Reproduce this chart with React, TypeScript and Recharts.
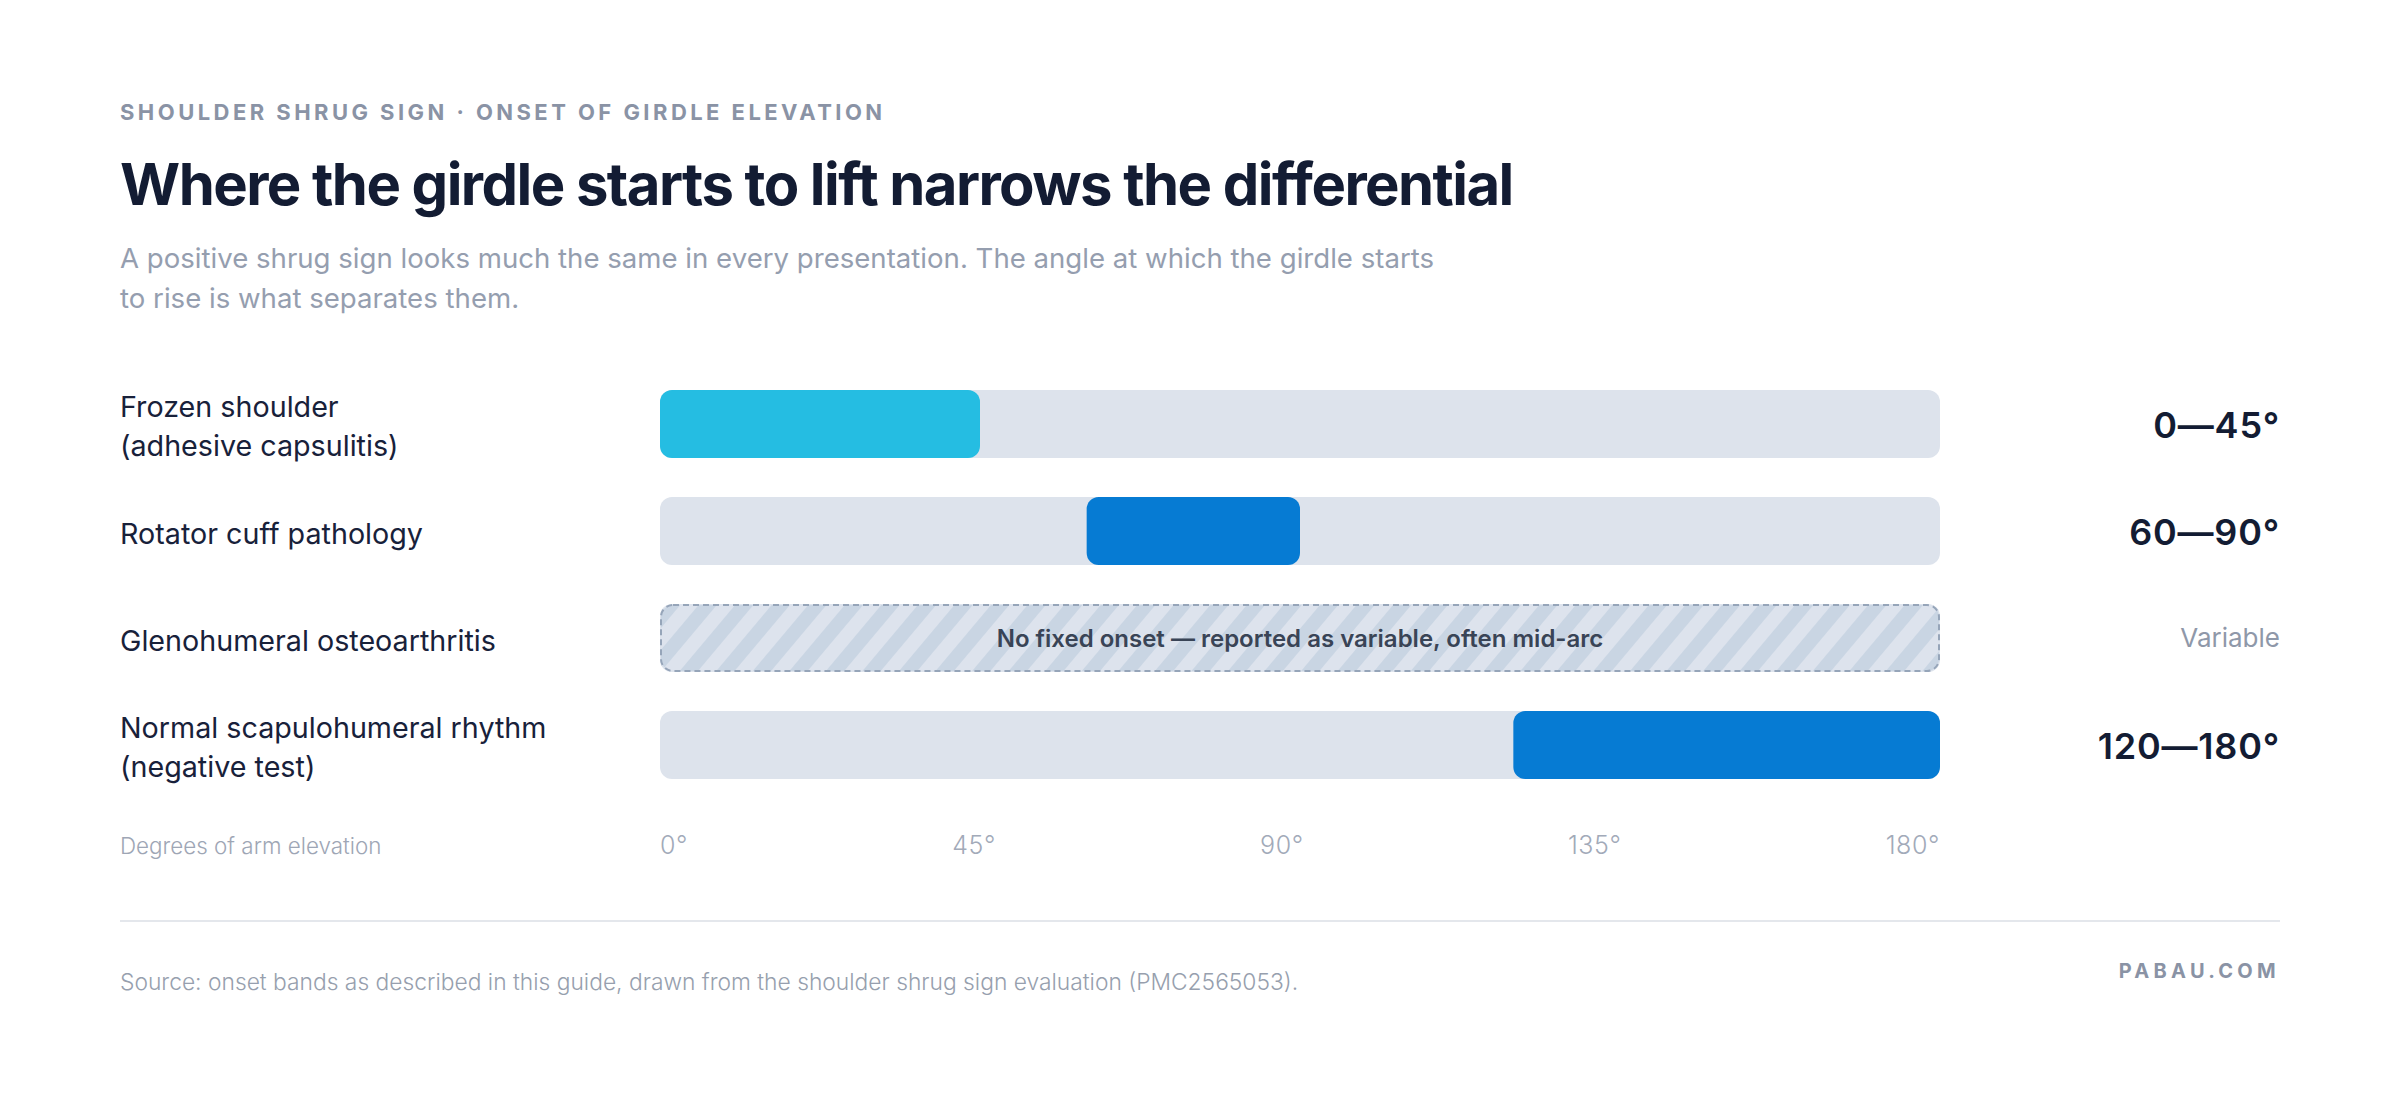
import React from 'react';
import { BarChart, Bar, XAxis, YAxis } from 'recharts';

// ---------- data ----------
const CATEGORY_IDS = ['frozen', 'cuff', 'oa', 'normal'];
const CATEGORY_LINES = [
  ['Frozen shoulder', '(adhesive capsulitis)'],
  ['Rotator cuff pathology'],
  ['Glenohumeral osteoarthritis'],
  ['Normal scapulohumeral rhythm', '(negative test)'],
];
const ONSET_START = [0, 60, null, 120];
const ONSET_END = [45, 90, null, 180];
const VALUE_LABELS = ['0—45°', '60—90°', 'Variable', '120—180°'];
const BAR_COLORS = ['#25bde2', '#067bd3', '', '#067bd3'];
const VARIABLE_NOTE = 'No fixed onset — reported as variable, often mid-arc';
const DOMAIN = [0, 180];
const TICKS = [0, 45, 90, 135, 180];
const TICK_LABELS = ['0°', '45°', '90°', '135°', '180°'];

const rows = CATEGORY_IDS.map((id, i) => {
  const variable = ONSET_START[i] === null;
  return {
    id,
    lines: CATEGORY_LINES[i],
    value: VALUE_LABELS[i],
    variable,
    color: BAR_COLORS[i],
    range: variable ? [DOMAIN[0], DOMAIN[1]] : [ONSET_START[i], ONSET_END[i]],
  };
});

// ---------- layout ----------
const W = 2400;
const H = 1108;
const PAD_X = 120;
const LEFT_AXIS_W = 540;
const RIGHT_AXIS_W = 340;
const PLOT_TOP = 370;
const BAND = 107;
const X_AXIS_H = 50;
const PLOT_LEFT = PAD_X + LEFT_AXIS_W;
const PLOT_RIGHT = W - PAD_X - RIGHT_AXIS_W;
const PLOT_BOTTOM = PLOT_TOP + BAND * rows.length;
const FONT = 'Inter, "Noto Sans", sans-serif';

const TRACK = '#dde3ec';
const NAVY = '#131c33';

let measureCtx: CanvasRenderingContext2D | null = null;
function measure(text: string, font: string, spacing: number): number {
  if (!measureCtx) {
    const c = document.createElement('canvas');
    measureCtx = c.getContext('2d');
  }
  if (!measureCtx) return text.length * 14;
  measureCtx.font = font;
  return measureCtx.measureText(text).width + spacing * text.length;
}

const TICK_FONT_SIZE = 25;
const TICK_SPACING = 0.6;
const TICK_FONT = `300 ${TICK_FONT_SIZE}px Inter`;

function tickPositions(): number[] {
  const widths = TICK_LABELS.map((t) => measure(t, TICK_FONT, TICK_SPACING));
  const total = widths.reduce((a, b) => a + b, 0);
  const gap = (PLOT_RIGHT - PLOT_LEFT - total) / (widths.length - 1);
  const pos: number[] = [];
  let acc = PLOT_LEFT;
  widths.forEach((w) => {
    pos.push(acc);
    acc += w + gap;
  });
  return pos;
}

const LeftTick = (props: any) => {
  const { y, index } = props;
  const row = rows[index];
  if (!row) return null;
  const lh = 39;
  const n = row.lines.length;
  return (
    <text x={PAD_X} y={y + 2} fontSize={28.7} fill="#18213a" fontFamily={FONT} dominantBaseline="central">
      {row.lines.map((l, i) => (
        <tspan key={i} x={PAD_X} dy={i === 0 ? -((n - 1) / 2) * lh : lh}>
          {l}
        </tspan>
      ))}
    </text>
  );
};

const RightTick = (props: any) => {
  const { y, index } = props;
  const row = rows[index];
  if (!row) return null;
  if (row.variable) {
    return (
      <text x={W - PAD_X} y={y} fontSize={26} fill="#8f98a9" fontFamily={FONT} textAnchor="end" dominantBaseline="central">
        {row.value}
      </text>
    );
  }
  return (
    <text x={W - PAD_X} y={y + 1} fontSize={36} fontWeight={600} fill={NAVY} fontFamily={FONT} textAnchor="end" dominantBaseline="central" letterSpacing={0.8}>
      {row.value}
    </text>
  );
};

const BottomTick = (props: any) => {
  const { y, index } = props;
  const pos = tickPositions();
  return (
    <text
      x={pos[index]}
      y={y + 39}
      fontSize={TICK_FONT_SIZE}
      fontWeight={300}
      letterSpacing={TICK_SPACING}
      fill="#a2aab9"
      fontFamily={FONT}
      textAnchor="start"
      dominantBaseline="central"
    >
      {TICK_LABELS[index]}
    </text>
  );
};

const RangeShape = (props: any) => {
  const { x, y, width, height, payload } = props;
  if (payload.variable) {
    return (
      <g>
        <defs>
          <pattern id="hatch" width="28" height="28" patternUnits="userSpaceOnUse" patternTransform="rotate(40)">
            <rect width="28" height="28" fill="#dde3ed" />
            <rect width="14" height="28" fill="#c9d5e3" />
          </pattern>
        </defs>
        <rect x={x + 1} y={y + 1} width={width - 2} height={height - 2} rx={12} ry={12} fill="url(#hatch)" stroke="#96a5b9" strokeWidth={2} strokeDasharray="6 4" />
        <text
          x={x + width / 2}
          y={y + height / 2}
          textAnchor="middle"
          dominantBaseline="central"
          fontSize={24}
          fontWeight={600}
          fill="#394456"
          fontFamily={FONT}
        >
          {VARIABLE_NOTE}
        </text>
      </g>
    );
  }
  return <rect x={x} y={y} width={width} height={height} rx={12} ry={12} fill={payload.color} />;
};

export default function App() {
  const abs = (s: React.CSSProperties): React.CSSProperties => ({ position: 'absolute', whiteSpace: 'nowrap', ...s });
  return (
    <div style={{ position: 'absolute', left: 0, top: 0, width: W, height: H, background: '#fff', fontFamily: FONT, overflow: 'hidden' }}>
      <div style={abs({ left: PAD_X, top: 101, fontSize: 22, lineHeight: '22px', fontWeight: 700, letterSpacing: 3.45, color: '#8a93a5' })}>
        SHOULDER SHRUG SIGN · ONSET OF GIRDLE ELEVATION
      </div>
      <div style={abs({ left: PAD_X, top: 154, fontSize: 58, lineHeight: '60px', fontWeight: 700, letterSpacing: -1.55, color: NAVY })}>
        Where the girdle starts to lift narrows the differential
      </div>
      <div style={abs({ left: PAD_X, top: 238, fontSize: 27.6, lineHeight: '40px', fontWeight: 400, color: '#959eaf' })}>
        A positive shrug sign looks much the same in every presentation. The angle at which the girdle starts
        <br />
        to rise is what separates them.
      </div>

      <div style={{ position: 'absolute', left: 0, top: 0 }}>
        <BarChart
          width={W}
          height={H}
          data={rows}
          layout="vertical"
          margin={{ top: PLOT_TOP, left: PAD_X, right: PAD_X, bottom: H - PLOT_BOTTOM - X_AXIS_H }}
        >
          <XAxis
            type="number"
            domain={DOMAIN}
            ticks={TICKS}
            axisLine={false}
            tickLine={false}
            height={X_AXIS_H}
            tick={<BottomTick />}
            interval={0}
          />
          <YAxis yAxisId="left" type="category" dataKey="id" width={LEFT_AXIS_W} axisLine={false} tickLine={false} tick={<LeftTick />} interval={0} />
          <YAxis yAxisId="right" orientation="right" type="category" dataKey="id" width={RIGHT_AXIS_W} axisLine={false} tickLine={false} tick={<RightTick />} interval={0} />
          <Bar
            yAxisId="left"
            dataKey="range"
            barSize={68}
            isAnimationActive={false}
            background={{ fill: TRACK, radius: 12 } as any}
            shape={<RangeShape />}
          />
        </BarChart>
      </div>

      <div style={abs({ left: PAD_X, top: 835, fontSize: 22.4, lineHeight: '22px', fontWeight: 300, color: '#9ea6b5' })}>
        Degrees of arm elevation
      </div>
      <div style={{ position: 'absolute', left: PAD_X, top: 920, width: W - 2 * PAD_X, height: 2, background: '#e4e7ec' }} />
      <div style={abs({ left: PAD_X, top: 971, fontSize: 22.8, lineHeight: '22px', fontWeight: 300, color: '#979fae' })}>
        Source: onset bands as described in this guide, drawn from the shoulder shrug sign evaluation (PMC2565053).
      </div>
      <div style={abs({ right: PAD_X, top: 960, fontSize: 20, lineHeight: '22px', fontWeight: 700, letterSpacing: 4.3, color: '#8a93a5' })}>
        PABAU.COM
      </div>
    </div>
  );
}
